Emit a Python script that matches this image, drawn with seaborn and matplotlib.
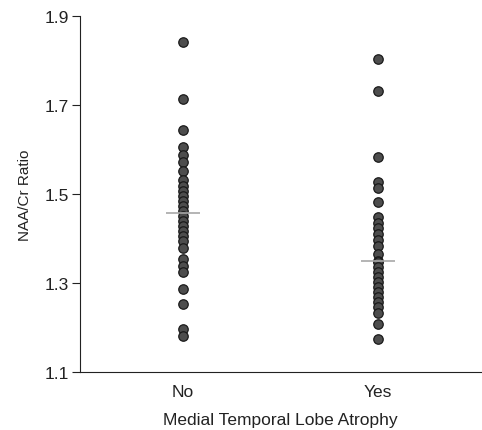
import numpy as np
import pandas as pd
import seaborn as sns
import matplotlib
matplotlib.use("Agg")
import matplotlib.pyplot as plt

categories = ["No", "Yes"]
no_values = [1.842, 1.713, 1.644, 1.606, 1.588, 1.572, 1.552, 1.531, 1.518, 1.507,
             1.496, 1.484, 1.473, 1.462, 1.451, 1.439, 1.428, 1.417, 1.406, 1.394,
             1.379, 1.354, 1.338, 1.325, 1.287, 1.253, 1.197, 1.181]
yes_values = [1.803, 1.731, 1.583, 1.527, 1.513, 1.482, 1.448, 1.435, 1.424, 1.410,
              1.397, 1.383, 1.365, 1.350, 1.347, 1.336, 1.325, 1.313, 1.302, 1.291,
              1.280, 1.269, 1.257, 1.246, 1.233, 1.208, 1.174]
y_ticks = [1.1, 1.3, 1.5, 1.7, 1.9]

df = pd.DataFrame({
    "group": ["No"] * len(no_values) + ["Yes"] * len(yes_values),
    "value": no_values + yes_values,
})

sns.set_style("ticks")
plt.rcParams["font.family"] = ["Liberation Sans", "DejaVu Sans"]

fig = plt.figure(figsize=(4.82, 4.31), dpi=100)
ax = fig.add_axes([80 / 482, 1 - 373 / 431, 401 / 482, (373 - 17) / 431])

sns.stripplot(data=df, x="group", y="value", order=categories, jitter=False,
              color="#4d4d4d", edgecolor="#1a1a1a", linewidth=0.9, size=6.8,
              ax=ax, zorder=3)

for i, vals in enumerate([no_values, yes_values]):
    med = np.median(vals)
    ax.hlines(med, i - 0.088, i + 0.088, color="#a8a8a8", linewidth=1.2, zorder=4)

ax.set_xlim(-0.53, 1.53)
ax.set_ylim(1.1, 1.9)
ax.set_yticks(y_ticks)
ax.set_yticklabels([f"{t:.1f}" for t in y_ticks], fontsize=12.5, color="#222222")
ax.tick_params(axis="x", length=0, pad=9, labelsize=12.5, labelcolor="#222222")
ax.tick_params(axis="y", length=6, width=0.8, pad=2, color="#222222")
ax.set_xlabel("Medial Temporal Lobe Atrophy", fontsize=12.5, labelpad=9, color="#222222")
ax.set_ylabel("NAA/Cr Ratio", fontsize=11, labelpad=9, color="#222222")
for s in ["top", "right"]:
    ax.spines[s].set_visible(False)
for s in ["left", "bottom"]:
    ax.spines[s].set_linewidth(0.8)
    ax.spines[s].set_color("#222222")

fig.savefig("out.png", dpi=100)
